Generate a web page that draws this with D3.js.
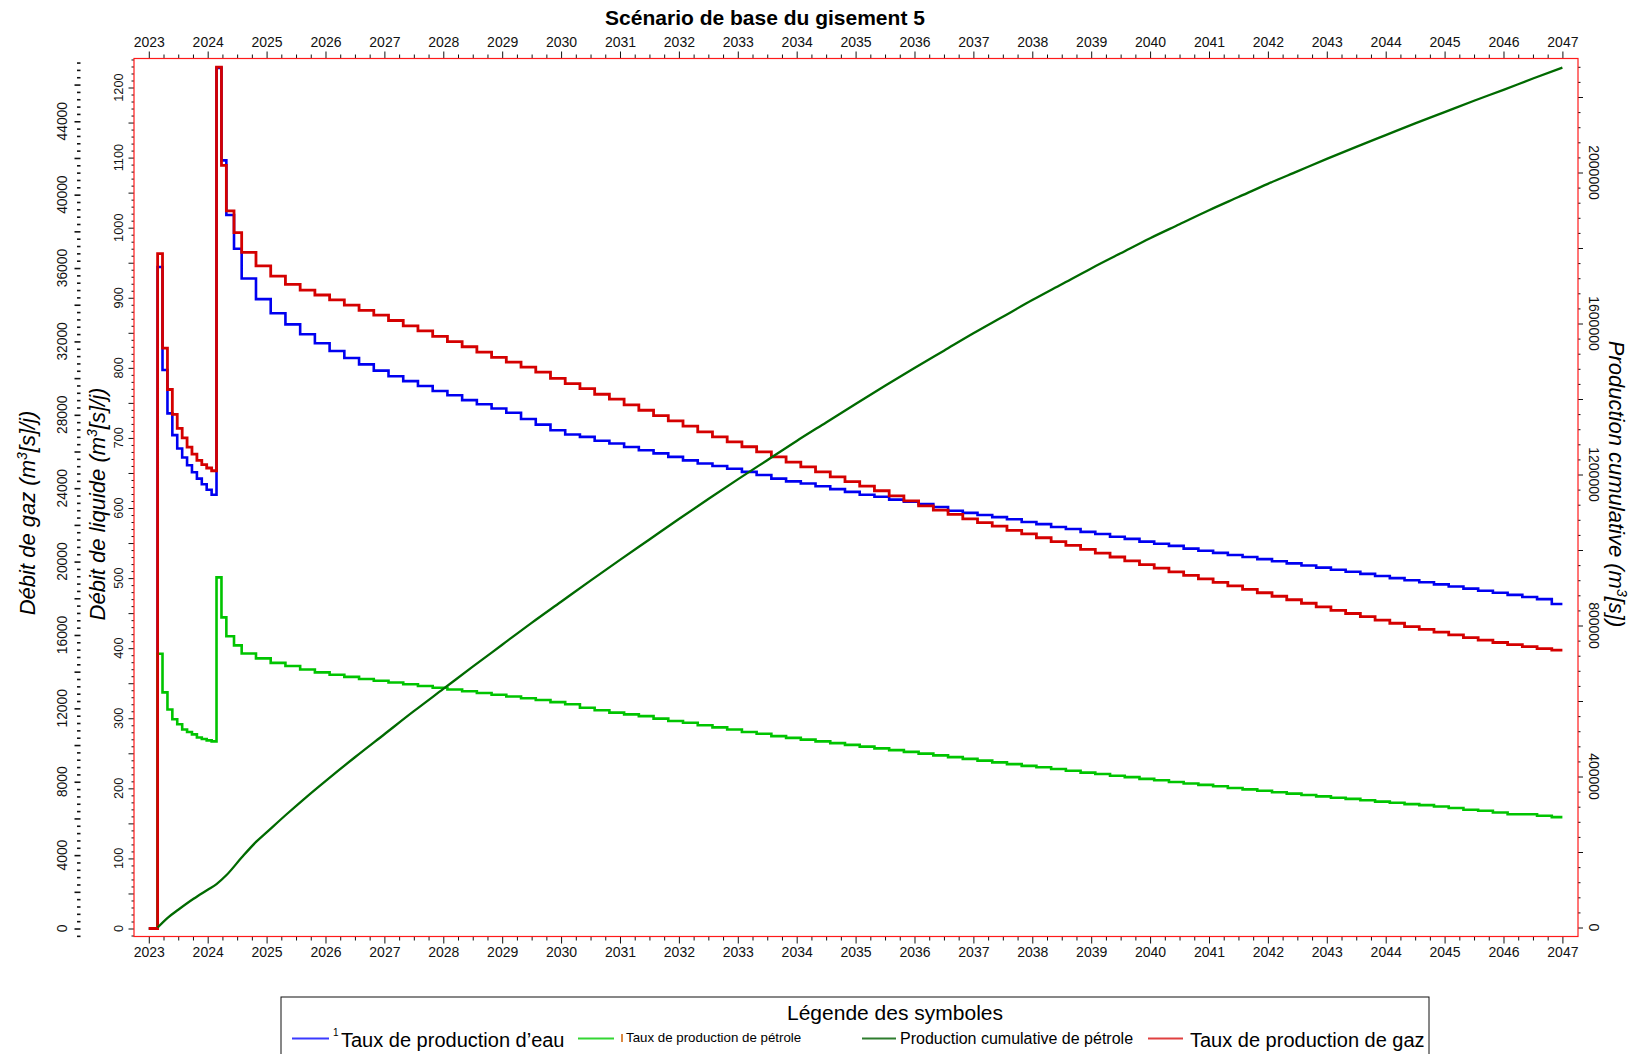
<!DOCTYPE html>
<html>
<head>
<meta charset="utf-8">
<script src="https://cdn.jsdelivr.net/npm/d3@7"></script>
<style>
  html, body { margin: 0; padding: 0; background: #fff; }
  svg { display: block; font-family: "Liberation Sans", Arial, sans-serif; }
</style>
</head>
<body>
<svg id="chart" width="1632" height="1054"></svg>
<script>
// ---------- data ----------
// start of each rate period (decimal year): monthly in 2023, then ramp-up, then quarterly
const stepYears = [
  2023.15, 2023.233, 2023.317, 2023.4, 2023.483, 2023.567, 2023.65, 2023.733, 2023.817, 2023.9, 2023.983, 2024.067,
  2024.15, 2024.234, 2024.317, 2024.447, 2024.577, 2024.82,
  2025.07, 2025.32, 2025.57, 2025.82,
  2026.07, 2026.32, 2026.57, 2026.82,
  2027.07, 2027.32, 2027.57, 2027.82,
  2028.07, 2028.32, 2028.57, 2028.82,
  2029.07, 2029.32, 2029.57, 2029.82,
  2030.07, 2030.32, 2030.57, 2030.82,
  2031.07, 2031.32, 2031.57, 2031.82,
  2032.07, 2032.32, 2032.57, 2032.82,
  2033.07, 2033.32, 2033.57, 2033.82,
  2034.07, 2034.32, 2034.57, 2034.82,
  2035.07, 2035.32, 2035.57, 2035.82,
  2036.07, 2036.32, 2036.57, 2036.82,
  2037.07, 2037.32, 2037.57, 2037.82,
  2038.07, 2038.32, 2038.57, 2038.82,
  2039.07, 2039.32, 2039.57, 2039.82,
  2040.07, 2040.32, 2040.57, 2040.82,
  2041.07, 2041.32, 2041.57, 2041.82,
  2042.07, 2042.32, 2042.57, 2042.82,
  2043.07, 2043.32, 2043.57, 2043.82,
  2044.07, 2044.32, 2044.57, 2044.82,
  2045.07, 2045.32, 2045.57, 2045.82,
  2046.07, 2046.32, 2046.57, 2046.82
];
const startYear = 2023.0;   // rates are zero before first production
const endYear = 2047.0;

// water rate, m3[s]/d (liquid axis)
const waterRate = [
  944, 797, 735, 704, 685, 672, 661, 651, 642, 634, 626, 619,
  1228, 1096, 1018, 970, 927.5, 898,
  878, 862, 848, 835,
  824, 814, 805, 796,
  788, 781, 774, 767,
  761, 754, 748, 742,
  736, 727, 719, 711,
  705, 701.5, 696, 692,
  687, 682.5, 678, 673,
  668, 663.5, 660, 656,
  651.5, 647, 642, 638,
  635, 631, 627, 623,
  619, 616, 612, 609,
  605.5, 601.5, 596, 593,
  590, 587, 584, 580,
  577, 573, 570, 566,
  563, 559, 556, 552,
  549, 546, 542, 539,
  536, 533, 530, 527,
  524, 521, 518, 515,
  512, 509, 506, 503,
  500, 497, 494, 491,
  488, 485, 482, 479,
  476, 473, 470, 463
];

// oil rate, m3[s]/d (liquid axis)
const oilRate = [
  392, 337, 312.5, 298.5, 291.5, 284, 280.5, 277, 272.5, 270.5, 268.5, 267,
  501, 444, 417, 404, 392.5, 385.5,
  379, 374.5, 369.5, 365.5,
  362, 359, 356, 353.5,
  351, 348.5, 346, 343.5,
  341, 338.5, 336, 333.5,
  331, 328.5, 326, 323,
  320, 315, 311.5, 308,
  305.5, 303, 299.5, 296,
  293.5, 290, 287, 284,
  280.5, 278, 274.5, 272,
  269.5, 267, 264.5, 262,
  259.5, 257, 254.5, 252,
  249.5, 247, 244.5, 242,
  239.5, 237, 234.5, 232,
  230, 227.5, 225, 222.5,
  220.5, 218, 216, 213.5,
  211.5, 209, 207, 205,
  203, 200.5, 198.5, 196.5,
  194.5, 192.5, 190.5, 188.5,
  186.5, 185, 183, 181,
  179.5, 177.5, 176, 174,
  172, 169.5, 168, 165.5,
  163, 163, 161, 159
];

// gas rate, m3[s]/d (gas axis)
const gasRate = [
  36790, 31630, 29380, 28020, 27260, 26740, 26240, 25860, 25520, 25290, 25100, 24950,
  46950, 41600, 39120, 37930, 36850, 36120,
  35560, 35110, 34800, 34530,
  34270, 33980, 33690, 33430,
  33140, 32850, 32570, 32280,
  31990, 31710, 31420, 31130,
  30870, 30600, 30330, 29990,
  29700, 29430, 29120, 28850,
  28540, 28250, 27960, 27670,
  27380, 27070, 26800, 26530,
  26260, 25980, 25710, 25420,
  25160, 24890, 24620, 24360,
  24110, 23860, 23580, 23310,
  23040, 22800, 22570, 22330,
  22120, 21930, 21700, 21510,
  21300, 21090, 20880, 20670,
  20460, 20250, 20040, 19830,
  19640, 19440, 19250, 19060,
  18870, 18680, 18490, 18300,
  18110, 17920, 17730, 17530,
  17340, 17170, 17000, 16810,
  16640, 16460, 16310, 16160,
  16010, 15850, 15720, 15590,
  15470, 15360, 15260, 15170
];

// cumulative oil production, m3[s] (right axis)
const cumYears = [
  2023.15, 2023.33, 2023.5, 2023.76, 2024.0, 2024.15, 2024.32, 2024.58, 2024.83,
  2025.0, 2025.34, 2025.67, 2026.0, 2026.5, 2027.0, 2027.5, 2028.0, 2028.5, 2029.0, 2029.5,
  2030.0, 2030.5, 2031.0, 2031.5, 2032.0, 2032.5, 2033.0, 2033.5, 2034.0, 2034.5,
  2035.0, 2035.5, 2036.0, 2036.5, 2037.0, 2037.5, 2038.0, 2038.5, 2039.0, 2039.5,
  2040.0, 2040.5, 2041.0, 2041.5, 2042.0, 2042.5, 2043.0, 2043.5, 2044.0, 2044.5,
  2045.0, 2045.5, 2046.0, 2046.5, 2047.0
];
const cumOil = [
  0, 27000, 47000, 76000, 100000, 115000, 139000, 186000, 228000,
  252000, 300000, 345000, 388000, 451000, 512000, 573000, 632000, 691000, 749000, 807000,
  863000, 919000, 974000, 1028000, 1082000, 1135000, 1187000, 1238000, 1289000, 1338000,
  1387000, 1435000, 1482000, 1528000, 1574000, 1618000, 1662000, 1704000, 1746000, 1786000,
  1826000, 1863000, 1900000, 1935000, 1970000, 2003000, 2036000, 2068000, 2099000, 2130000,
  2160000, 2190000, 2219000, 2249000, 2278000
];

// tick labels
const yearTicks = [2023, 2024, 2025, 2026, 2027, 2028, 2029, 2030, 2031, 2032, 2033, 2034, 2035,
                   2036, 2037, 2038, 2039, 2040, 2041, 2042, 2043, 2044, 2045, 2046, 2047];
const liquidTicks = [0, 100, 200, 300, 400, 500, 600, 700, 800, 900, 1000, 1100, 1200];
const gasTicks = [0, 4000, 8000, 12000, 16000, 20000, 24000, 28000, 32000, 36000, 40000, 44000];
const cumTicks = [0, 400000, 800000, 1200000, 1600000, 2000000];

// ---------- layout ----------
const FONT = '"Liberation Sans", Arial, sans-serif';
const M = { left: 134, right: 1578, top: 58.5, bottom: 936.5 };
const GAS_PER_LIQ = 38.2;

const svg = d3.select("#chart");

const x = d3.scaleLinear().domain([2022.749, 2047.265]).range([M.left, M.right]);
const yLiq = d3.scaleLinear().domain([-11.4, 1241.4]).range([M.bottom, M.top]);
const yGas = d3.scaleLinear().domain([-11.4 * GAS_PER_LIQ, 1241.4 * GAS_PER_LIQ]).range([M.bottom, M.top]);
const yCum = d3.scaleLinear().domain([-23800, 2302000]).range([M.bottom, M.top]);

function cleanAxis(g) {
  g.select(".domain").remove();
  g.selectAll("line").attr("stroke", "#111");
  g.selectAll("text").attr("font-family", FONT).attr("fill", "#111");
}

// ---------- title ----------
svg.append("text")
  .attr("x", 765).attr("y", 25)
  .attr("text-anchor", "middle")
  .attr("font-size", 21).attr("font-weight", "bold")
  .attr("fill", "#000")
  .text("Scénario de base du gisement 5");

// ---------- x axes (top and bottom) ----------
const minorYears = d3.range(2023, 2047, 0.25).filter(d => d % 1 !== 0);

[["top", M.top, d3.axisTop], ["bottom", M.bottom, d3.axisBottom]].forEach(([pos, yPos, axisFn]) => {
  svg.append("g").attr("transform", `translate(0,${yPos})`)
    .call(axisFn(x).tickValues(minorYears).tickSize(4).tickFormat(""))
    .call(cleanAxis);
  svg.append("g").attr("transform", `translate(0,${yPos})`)
    .call(axisFn(x).tickValues(yearTicks).tickSize(7).tickPadding(pos === "top" ? 5 : 4).tickFormat(d3.format("d")))
    .call(cleanAxis)
    .call(g => g.selectAll("text").attr("font-size", 14));
});

// ---------- liquid axis (inner left) ----------
const liqMinor = d3.range(-10, 1241, 10).filter(d => d % 50 !== 0);
const liqMid = d3.range(0, 1241, 50);
svg.append("g").attr("transform", `translate(${M.left},0)`)
  .call(d3.axisLeft(yLiq).tickValues(liqMinor).tickSize(2.5).tickFormat(""))
  .call(cleanAxis);
svg.append("g").attr("transform", `translate(${M.left},0)`)
  .call(d3.axisLeft(yLiq).tickValues(liqMid).tickSize(5.5).tickFormat(""))
  .call(cleanAxis);
svg.append("g").selectAll("text").data(liquidTicks).join("text")
  .attr("transform", d => `translate(118.5,${yLiq(d)}) rotate(-90)`)
  .attr("text-anchor", "middle").attr("dy", "0.36em")
  .attr("font-size", 12.8).attr("fill", "#111")
  .text(d => d);

// ---------- gas axis (outer left) ----------
const gasMinor = d3.range(-400, 47300, 400).filter(d => d % 2000 !== 0);
const gasMid = d3.range(0, 47300, 2000);
svg.append("g").attr("transform", "translate(80.5,0)")
  .call(d3.axisLeft(yGas).tickValues(gasMinor).tickSize(3.5).tickFormat(""))
  .call(cleanAxis)
  .call(g => g.selectAll("line").attr("stroke-width", 1.6));
svg.append("g").attr("transform", "translate(80.5,0)")
  .call(d3.axisLeft(yGas).tickValues(gasMid).tickSize(6).tickFormat(""))
  .call(cleanAxis)
  .call(g => g.selectAll("line").attr("stroke-width", 1.6));
svg.append("g").selectAll("text").data(gasTicks).join("text")
  .attr("transform", d => `translate(62,${yGas(d)}) rotate(-90)`)
  .attr("text-anchor", "middle").attr("dy", "0.36em")
  .attr("font-size", 13.8).attr("fill", "#111")
  .text(d => d);

// ---------- cumulative axis (right) ----------
const cumMinor = d3.range(0, 2300000, 40000).filter(d => d % 200000 !== 0);
const cumMid = d3.range(0, 2300000, 200000);
svg.append("g").attr("transform", `translate(${M.right},0)`)
  .call(d3.axisRight(yCum).tickValues(cumMinor).tickSize(2.5).tickFormat(""))
  .call(cleanAxis);
svg.append("g").attr("transform", `translate(${M.right},0)`)
  .call(d3.axisRight(yCum).tickValues(cumMid).tickSize(5).tickFormat(""))
  .call(cleanAxis);
svg.append("g").selectAll("text").data(cumTicks).join("text")
  .attr("transform", d => `translate(1594,${yCum(d)}) rotate(90)`)
  .attr("text-anchor", "middle").attr("dy", "0.36em")
  .attr("font-size", 14).attr("fill", "#111")
  .text(d => d);

// ---------- axis titles ----------
function unitTitle(sel, before, after) {
  sel.append("tspan").text(before);
  sel.append("tspan").attr("dy", -8).attr("font-size", 14).text("3");
  sel.append("tspan").attr("dy", 8).text(after);
}
svg.append("text")
  .attr("transform", "translate(27,513) rotate(-90)")
  .attr("text-anchor", "middle").attr("dy", "0.36em")
  .attr("font-size", 22).attr("font-style", "italic").attr("fill", "#000")
  .call(unitTitle, "Débit de gaz (m", "[s]/j)");
svg.append("text")
  .attr("transform", "translate(97,504) rotate(-90)")
  .attr("text-anchor", "middle").attr("dy", "0.36em")
  .attr("font-size", 22).attr("font-style", "italic").attr("fill", "#000")
  .call(unitTitle, "Débit de liquide (m", "[s]/j)");
svg.append("text")
  .attr("transform", "translate(1617,484) rotate(90)")
  .attr("text-anchor", "middle").attr("dy", "0.36em")
  .attr("font-size", 22).attr("font-style", "italic").attr("fill", "#000")
  .call(unitTitle, "Production cumulative (m", "[s])");

// ---------- series ----------
const plot = svg.append("g");

function stepSeries(values) {
  const pts = [{ t: startYear, v: 0 }];
  stepYears.forEach((t, i) => pts.push({ t, v: values[i] }));
  pts.push({ t: endYear, v: values[values.length - 1] });
  return pts;
}

const COLORS = { water: "#0000f0", oil: "#00c400", gas: "#d40000", cum: "#006a00" };

const stepLine = yScale => d3.line().x(d => x(d.t)).y(d => yScale(d.v)).curve(d3.curveStepAfter);

plot.append("path").datum(stepSeries(waterRate))
  .attr("d", stepLine(yLiq)).attr("fill", "none")
  .attr("stroke", COLORS.water).attr("stroke-width", 2.6).attr("stroke-linejoin", "miter");
plot.append("path").datum(stepSeries(oilRate))
  .attr("d", stepLine(yLiq)).attr("fill", "none")
  .attr("stroke", COLORS.oil).attr("stroke-width", 2.6).attr("stroke-linejoin", "miter");
plot.append("path").datum(stepSeries(gasRate))
  .attr("d", stepLine(yGas)).attr("fill", "none")
  .attr("stroke", COLORS.gas).attr("stroke-width", 2.8).attr("stroke-linejoin", "miter");

const cumPts = cumYears.map((t, i) => ({ t, v: cumOil[i] }));
plot.append("path").datum(cumPts)
  .attr("d", d3.line().x(d => x(d.t)).y(d => yCum(d.v)).curve(d3.curveMonotoneX))
  .attr("fill", "none").attr("stroke", COLORS.cum).attr("stroke-width", 2.3);

// ---------- frame ----------
svg.append("rect")
  .attr("x", M.left).attr("y", M.top)
  .attr("width", M.right - M.left).attr("height", M.bottom - M.top)
  .attr("fill", "none").attr("stroke", "#ff1a1a").attr("stroke-width", 1.2);

// ---------- legend ----------
const legend = svg.append("g");
legend.append("rect")
  .attr("x", 281).attr("y", 997).attr("width", 1148).attr("height", 80)
  .attr("fill", "#fff").attr("stroke", "#111").attr("stroke-width", 1);
legend.append("text")
  .attr("x", 895).attr("y", 1020).attr("text-anchor", "middle")
  .attr("font-size", 21).attr("fill", "#000")
  .text("Légende des symboles");

const legendItems = [
  { x1: 292, x2: 329, color: "#3a3aff", tx: 341, ty: 1047, size: 20, label: "Taux de production d’eau" },
  { x1: 578, x2: 614, color: "#33d633", tx: 626, ty: 1042, size: 13.3, label: "Taux de production de pétrole" },
  { x1: 862, x2: 896, color: "#2e7d2e", tx: 900, ty: 1044, size: 16, label: "Production cumulative de pétrole" },
  { x1: 1148, x2: 1183, color: "#e04040", tx: 1190, ty: 1047, size: 20, label: "Taux de production de gaz" }
];
const li = legend.selectAll("g.item").data(legendItems).join("g").attr("class", "item");
li.append("line")
  .attr("x1", d => d.x1).attr("x2", d => d.x2)
  .attr("y1", 1038.5).attr("y2", 1038.5)
  .attr("stroke", d => d.color).attr("stroke-width", 2);
li.append("text")
  .attr("x", d => d.tx).attr("y", d => d.ty)
  .attr("font-size", d => d.size).attr("fill", "#000")
  .text(d => d.label);

// small marks preceding the first two legend labels
legend.append("text").attr("x", 333).attr("y", 1036).attr("font-size", 10).attr("fill", "#000").text("1");
legend.append("line").attr("x1", 622).attr("x2", 622).attr("y1", 1034).attr("y2", 1042)
  .attr("stroke", "#d06000").attr("stroke-width", 1.5);
</script>
</body>
</html>
